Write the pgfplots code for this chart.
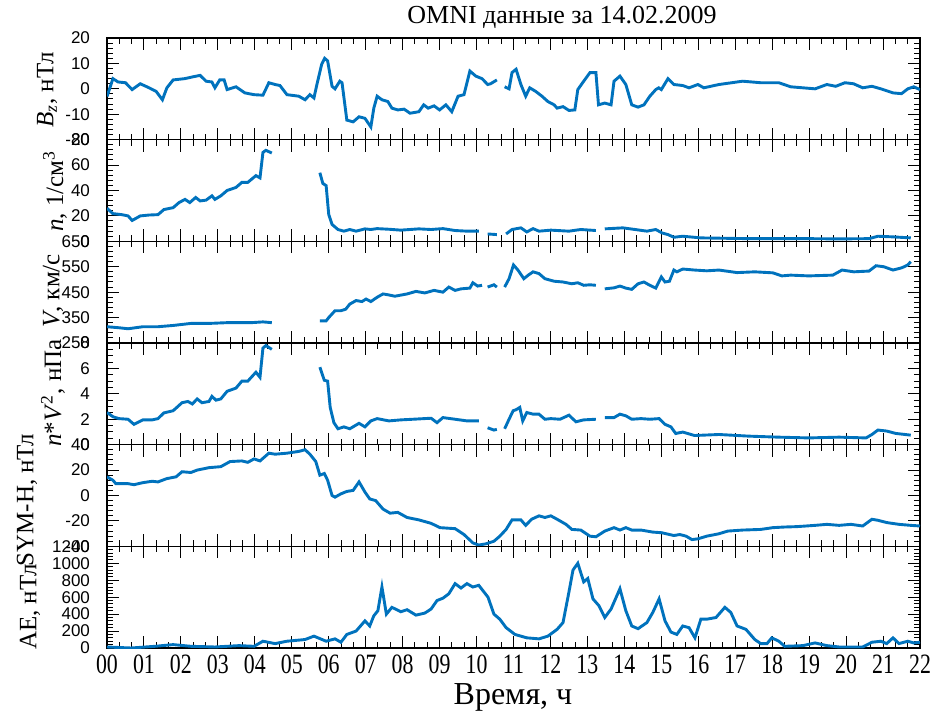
\documentclass[border=0pt]{standalone}
\usepackage{fontspec}
\setmainfont{Liberation Serif}
\newfontfamily\sansf{Liberation Sans}
\newfontfamily\condserif[FakeStretch=0.78]{Liberation Serif}
\usepackage{pgfplots}
\pgfplotsset{compat=1.18}
\definecolor{lb}{RGB}{0,114,189}
\pgfplotsset{
 dat/.style={color=lb, line width=1.45pt, no marks},
 panel/.style={
   scale only axis, width=406.5pt, height=50.833pt, anchor=north west,
   xmin=0,xmax=22, xtick={0,...,22}, minor x tick num=2,
   tick align=inside, xticklabels={},
   major tick length=6pt, minor tick length=3pt,
   tick style={black,line width=0.5pt},
   axis line style={line width=0.7pt},
   yticklabel style={font=\sansf\fontsize{8.5}{9}\selectfont},
   /pgf/number format/assume math mode=true,
   /pgf/number format/1000 sep={},
   yticklabel shift=5pt,
   unbounded coords=jump,
 }
}
\begin{document}
\begin{tikzpicture}
\path[use as bounding box] (0,0) rectangle (466.5pt,359.5pt);
% Bz
\begin{axis}[panel, at={(53.5pt,340.5pt)}, ymin=-20,ymax=20, ytick={-20,-10,0,10,20}, minor y tick num=4]
\addplot[dat] coordinates {(0,-3)(0.16,4)(0.3,2.7)(0.5,2.4)(0.68,-0.3)(0.9,2)(1.14,0.4)(1.33,-1)(1.5,-4.3)(1.62,0.4)(1.79,3.5)(2.1,4)(2.35,4.8)(2.52,5.3)(2.68,3)(2.84,2.7)(2.92,0.4)(3.05,3.5)(3.17,3.5)(3.25,-0.3)(3.49,0.8)(3.73,-1.6)(3.98,-2.3)(4.22,-2.5)(4.38,2.4)(4.55,1.7)(4.68,1.3)(4.87,-2.3)(5.19,-2.9)(5.36,-4.3)(5.49,-2.3)(5.6,-3.6)(5.68,1.7)(5.81,9.7)(5.89,12)(5.97,11)(6.09,1)(6.17,0)(6.3,3)(6.36,2.4)(6.49,-12.3)(6.66,-13)(6.82,-11)(6.98,-11.6)(7.14,-15)(7.22,-7.6)(7.31,-2.9)(7.44,-4.3)(7.6,-5)(7.71,-7.6)(7.87,-8.3)(8.04,-8)(8.2,-9.6)(8.44,-9)(8.57,-6.3)(8.69,-7.6)(8.85,-6.7)(9.0,-8.3)(9.17,-6.3)(9.33,-9)(9.5,-2.9)(9.66,-2.3)(9.82,7)(9.98,5)(10.15,4)(10.3,1.7)(10.38,2)(10.55,3.5)(10.62,nan)(10.76,0.8)(10.88,0)(10.96,6.4)(11.07,7.7)(11.2,1.7)(11.33,-2.9)(11.44,0.4)(11.6,-1)(11.77,-2.9)(11.93,-5)(12.1,-6.3)(12.18,-7.6)(12.34,-7)(12.5,-8.5)(12.66,-8.3)(12.74,-0.3)(12.9,3)(13.07,6.4)(13.23,6.4)(13.3,-6.3)(13.47,-5.6)(13.64,-6.3)(13.72,3)(13.88,5)(14.04,1.7)(14.2,-6.3)(14.37,-7.2)(14.53,-6.3)(14.69,-2.9)(14.85,-0.3)(14.93,0.4)(15.0,-0.3)(15.18,4)(15.34,1.7)(15.58,1.3)(15.75,0.4)(15.99,1.7)(16.15,0.4)(16.56,1.7)(17.2,3)(17.69,2.4)(18.18,2.4)(18.5,0.8)(18.83,0.4)(19.16,0)(19.48,1.7)(19.72,1)(19.97,2.4)(20.2,2)(20.45,0.4)(20.7,1)(20.94,0)(21.27,-1.6)(21.5,-1.9)(21.67,0)(21.83,0.8)(22,-0.3)};
\end{axis}
% n
\begin{axis}[panel, at={(53.5pt,289.667pt)}, ymin=0,ymax=80, ytick={0,20,40,60,80}, minor y tick num=4]
\addplot[dat] coordinates {(0,26)(0.16,21.8)(0.4,21)(0.57,20)(0.68,16.4)(0.9,20)(1.14,20.7)(1.38,21)(1.54,25)(1.79,26.5)(1.95,30.5)(2.11,33)(2.24,30.5)(2.4,34.5)(2.52,31.8)(2.68,32.4)(2.84,35.8)(2.92,33)(3.08,35.8)(3.25,40)(3.49,42.4)(3.65,46.4)(3.81,46.4)(4.03,51.7)(4.14,49.9)(4.22,70)(4.3,71.6)(4.46,69.5)(4.6,nan)(5.76,54)(5.84,45.6)(5.93,43.8)(6.0,21.2)(6.09,13.3)(6.25,9.3)(6.41,8)(6.57,9.3)(6.74,8)(6.98,9.8)(7.14,9.3)(7.31,10)(7.63,9.5)(7.95,8.8)(8.44,9.8)(8.77,9.3)(9.09,10)(9.42,8.5)(9.74,8)(10.06,8)(10.2,nan)(10.3,5.8)(10.55,5.3)(10.65,nan)(10.8,5.8)(10.96,9.3)(11.2,10.6)(11.36,7.4)(11.53,10)(11.69,8)(12.01,8.8)(12.5,8)(12.82,9.3)(13.23,8.5)(13.35,nan)(13.47,9.8)(13.96,10.6)(14.29,9.3)(14.61,8)(14.85,9.3)(15.02,6.6)(15.18,5.3)(15.34,3.2)(15.58,4)(16.07,2.7)(17.37,2.1)(18.99,2.1)(19.81,1.9)(20.62,2.1)(20.86,4)(21.27,3.5)(21.75,2.7)};
\end{axis}
% V
\begin{axis}[panel, at={(53.5pt,238.833pt)}, ymin=250,ymax=650, ytick={250,350,450,550,650}, minor y tick num=4]
\addplot[dat] coordinates {(0,314)(0.32,310)(0.57,306)(0.97,314)(1.38,314)(1.79,319)(2.27,327)(2.76,327)(3.25,330)(3.9,330)(4.22,333)(4.46,330)(4.6,nan)(5.76,337)(5.93,337)(6.0,350)(6.17,377)(6.33,377)(6.46,383)(6.57,403)(6.74,417)(6.9,413)(7.01,423)(7.14,413)(7.31,430)(7.47,443)(7.63,439)(7.79,434)(8.12,443)(8.36,453)(8.6,447)(8.85,457)(9.09,450)(9.25,470)(9.42,457)(9.58,463)(9.82,466)(9.9,487)(10.03,474)(10.15,477)(10.22,nan)(10.3,470)(10.47,479)(10.55,470)(10.65,nan)(10.76,470)(10.88,503)(11.0,557)(11.12,537)(11.28,503)(11.4,517)(11.53,530)(11.69,523)(11.85,503)(12.1,493)(12.34,490)(12.58,483)(12.74,487)(12.9,477)(13.07,479)(13.23,477)(13.35,nan)(13.47,463)(13.72,467)(13.88,474)(14.04,466)(14.2,461)(14.37,483)(14.53,490)(14.69,477)(14.85,466)(15.0,510)(15.1,490)(15.22,493)(15.34,537)(15.42,530)(15.58,541)(15.9,537)(16.23,534)(16.56,537)(17.05,527)(17.53,530)(18.02,526)(18.26,514)(18.5,517)(18.99,514)(19.64,517)(19.89,537)(20.21,530)(20.62,533)(20.81,554)(21.02,550)(21.27,537)(21.51,546)(21.67,557)(21.75,570)};
\end{axis}
% nV^2
\begin{axis}[panel, at={(53.5pt,188pt)}, ymin=0,ymax=8, ytick={0,2,4,6,8}, minor y tick num=3]
\addplot[dat] coordinates {(0,2.53)(0.16,2.2)(0.32,2.05)(0.57,2.0)(0.73,1.6)(0.97,1.95)(1.22,1.95)(1.38,2.05)(1.54,2.5)(1.79,2.67)(2.03,3.3)(2.19,3.4)(2.31,3.2)(2.44,3.6)(2.57,3.3)(2.76,3.4)(2.84,3.8)(2.95,3.5)(3.08,3.6)(3.25,4.2)(3.49,4.45)(3.65,5.0)(3.81,5.0)(4.03,5.7)(4.14,5.3)(4.22,7.6)(4.3,7.8)(4.46,7.5)(4.6,nan)(5.76,6.1)(5.88,5.07)(5.97,5.0)(6.04,2.93)(6.14,1.73)(6.25,1.25)(6.41,1.4)(6.57,1.25)(6.82,1.68)(6.98,1.4)(7.14,1.87)(7.31,2.05)(7.63,1.87)(7.95,1.95)(8.28,2.0)(8.77,2.08)(8.93,1.73)(9.09,2.13)(9.42,2.0)(9.74,1.87)(10.06,1.87)(10.2,nan)(10.3,1.33)(10.47,1.15)(10.55,1.2)(10.65,nan)(10.76,1.25)(10.88,2.0)(10.99,2.67)(11.07,2.75)(11.17,2.93)(11.25,1.87)(11.36,2.53)(11.53,2.4)(11.69,2.4)(11.85,2.0)(12.01,2.05)(12.26,2.0)(12.5,2.32)(12.69,1.8)(12.9,1.95)(13.23,2.0)(13.35,nan)(13.47,2.13)(13.72,2.13)(13.88,2.4)(14.04,2.27)(14.2,2.0)(14.45,2.05)(14.69,2.0)(14.94,2.05)(15.1,1.6)(15.26,1.4)(15.39,0.88)(15.58,0.99)(15.9,0.72)(16.56,0.8)(17.37,0.67)(18.18,0.59)(18.99,0.53)(19.81,0.59)(20.54,0.53)(20.7,0.8)(20.86,1.15)(21.1,1.07)(21.35,0.88)(21.75,0.75)};
\end{axis}
% SYM-H
\begin{axis}[panel, at={(53.5pt,137.167pt)}, ymin=-40,ymax=40, ytick={-40,-20,0,20,40}, minor y tick num=4]
\addplot[dat] coordinates {(0,14.7)(0.16,12)(0.24,9.3)(0.57,9.3)(0.73,8.5)(0.97,10.1)(1.22,11.2)(1.38,10.7)(1.62,13.3)(1.87,14.7)(2.03,18.7)(2.27,18.1)(2.44,20)(2.76,21.9)(3.08,22.7)(3.33,26.7)(3.65,27.2)(3.81,26.1)(3.98,28.8)(4.14,27.2)(4.38,33.3)(4.55,32.5)(4.87,33.3)(5.19,34.7)(5.36,36)(5.49,32.5)(5.65,26.7)(5.76,16)(5.88,17.3)(5.97,12)(6.09,0)(6.17,-1.3)(6.33,1.3)(6.49,3.2)(6.66,4)(6.82,10.7)(6.98,2.7)(7.11,-2.7)(7.27,-4)(7.47,-10.7)(7.66,-13.9)(7.87,-13.3)(8.12,-17.3)(8.44,-19.2)(8.77,-21.9)(9.01,-25.3)(9.42,-26.1)(9.66,-30.7)(9.9,-37.3)(10.06,-39)(10.26,-38)(10.47,-36)(10.63,-32)(10.8,-26.7)(10.96,-19.2)(11.2,-19.2)(11.33,-23.5)(11.49,-18.7)(11.69,-16)(11.85,-17.3)(12.01,-16)(12.18,-18.7)(12.42,-22.7)(12.58,-26.7)(12.82,-27.2)(13.07,-32)(13.23,-32.5)(13.47,-28)(13.72,-25.3)(13.88,-27.2)(14.04,-25.3)(14.2,-27.2)(14.45,-27.2)(14.77,-28.8)(15.01,-29.3)(15.34,-31.5)(15.5,-30.7)(15.67,-32)(15.83,-34.7)(15.99,-34.1)(16.23,-32)(16.56,-30.1)(16.8,-28)(17.2,-27.2)(17.69,-26.7)(18.02,-25.3)(18.34,-24.8)(18.67,-24.5)(19.16,-23.5)(19.48,-22.7)(19.81,-23.5)(20.13,-22.7)(20.45,-24)(20.7,-18.7)(20.86,-19.5)(21.1,-21.3)(21.43,-22.7)(21.75,-23.5)(22,-24)};
\end{axis}
% AE
\begin{axis}[panel, at={(53.5pt,86.333pt)}, ymin=0,ymax=1200, ytick={0,200,400,600,800,1000,1200}, minor y tick num=4,
  xticklabels={00,01,02,03,04,05,06,07,08,09,10,11,12,13,14,15,16,17,18,19,20,21,22},
  xticklabel style={font=\condserif\fontsize{14}{14}\selectfont}]
\addplot[dat] coordinates {(0,12)(0.65,0)(1.3,20)(1.79,40)(2.27,20)(2.92,12)(3.57,28)(3.98,20)(4.22,80)(4.55,52)(4.87,80)(5.36,100)(5.6,140)(5.93,80)(6.17,108)(6.33,68)(6.49,160)(6.74,200)(6.98,320)(7.11,260)(7.22,380)(7.33,440)(7.44,720)(7.56,400)(7.71,480)(7.95,428)(8.12,452)(8.36,388)(8.6,412)(8.77,460)(8.93,560)(9.09,588)(9.25,640)(9.42,760)(9.58,708)(9.74,760)(9.9,720)(10.06,740)(10.31,600)(10.47,400)(10.63,340)(10.8,240)(11.04,160)(11.36,120)(11.69,108)(11.93,140)(12.18,220)(12.34,300)(12.5,660)(12.61,920)(12.74,1000)(12.9,780)(13.01,820)(13.15,580)(13.31,500)(13.47,360)(13.64,460)(13.88,700)(14.04,440)(14.2,260)(14.37,228)(14.61,300)(14.77,420)(14.94,580)(15.1,320)(15.26,188)(15.42,160)(15.58,260)(15.75,240)(15.91,120)(16.07,340)(16.23,340)(16.48,360)(16.72,480)(16.88,420)(17.05,260)(17.29,220)(17.53,100)(17.69,52)(17.86,52)(17.99,120)(18.18,80)(18.34,20)(18.83,28)(19.16,60)(19.48,28)(19.81,12)(20.45,12)(20.7,68)(20.94,80)(21.1,52)(21.27,120)(21.43,52)(21.67,80)(21.83,60)(22,68)};
\end{axis}
% labels
\node[font=\fontsize{13}{13}\selectfont] at (281pt,351pt) {OMNI данные за 14.02.2009};
\node[font=\fontsize{16}{16}\selectfont] at (256.5pt,11pt) {Время, ч};
\begin{scope}[every node/.style={rotate=90, font=\fontsize{12.5}{12.5}\selectfont}]
\node at (23.5pt,314.5pt) {\textit{B}\textsubscript{\textit{z}}, нТл};
\node at (27.5pt,264pt) {\textit{n}, 1/см\textsuperscript{3}};
\node at (26.5pt,214pt) {\textit{V}, км/с};
\node at (26.5pt,163pt) {\textit{n}*\textit{V}\textsuperscript{2}, нПа};
\node at (13.5pt,109.5pt) {SYM-H, нТл};
\node at (15pt,56pt) {AE, нТл};
\end{scope}
\end{tikzpicture}
\end{document}
